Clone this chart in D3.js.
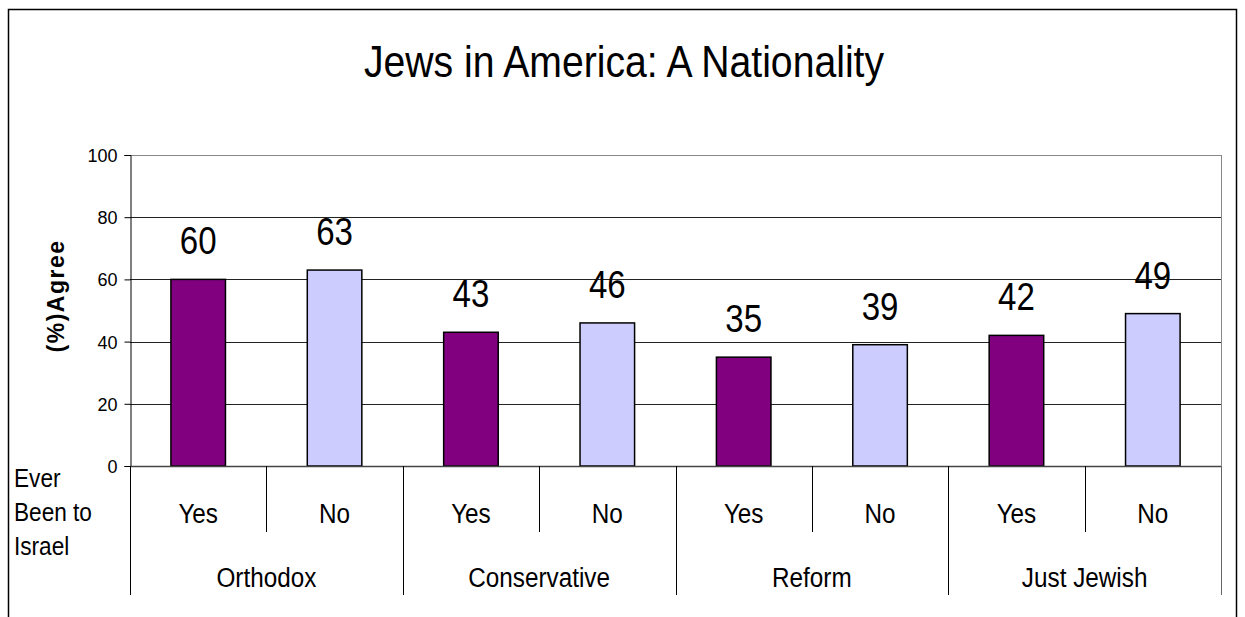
<!DOCTYPE html>
<html><head><meta charset="utf-8">
<script src="https://cdnjs.cloudflare.com/ajax/libs/d3/7.8.5/d3.min.js"></script>
<style>body{margin:0;background:#fff}svg{display:block;font-family:"Liberation Sans",Arial,sans-serif}</style>
</head><body><svg id="c" width="1245" height="617"></svg>
<script>
const title = "Jews in America: A Nationality";
const groups = ["Orthodox","Conservative","Reform","Just Jewish"];
const subs = ["Yes","No"];
const values = [60,63,43,46,35,39,42,49];
const yTicks = [0,20,40,60,80,100];
const yTitle = "(%)Agree";
const rowTitle = ["Ever","Been to","Israel"];
const colors = {Yes:"#800080", No:"#CCCCFF"};

const svg = d3.select("#c");
const L=130,R=1221,T=155,B=466;
const SX=0.9;
function stext(g, x, y, txt, size, anchor, sx){
  return g.append("text").attr("transform",`translate(${x},${y}) scale(${sx||SX},1)`)
    .attr("text-anchor",anchor||"middle").attr("font-size",size).attr("fill","#000").text(txt);
}
// outer border
svg.append("rect").attr("x",8.5).attr("y",9.5).attr("width",1228).attr("height",640)
  .attr("fill","none").attr("stroke","#000").attr("stroke-width",1.5);

const cats = [];
groups.forEach(g=>subs.forEach(s=>cats.push({g,s})));
const x = d3.scaleBand().domain(d3.range(cats.length)).range([L,R]).paddingInner(0).paddingOuter(0);
const y = d3.scaleLinear().domain([0,100]).range([B,T]);
const bw = x.bandwidth()/2.5;

// gridlines
svg.append("g").selectAll("line").data(yTicks.filter(t=>t>0)).join("line")
  .attr("x1",L).attr("x2",R).attr("y1",d=>Math.round(y(d))+0.5).attr("y2",d=>Math.round(y(d))+0.5)
  .attr("stroke",d=>d===100?"#888":"#222").attr("stroke-width",1);
// right plot border
svg.append("line").attr("x1",R+0.5).attr("x2",R+0.5).attr("y1",T).attr("y2",B).attr("stroke","#888");

// y axis
const ya = svg.append("g").attr("transform",`translate(${L+0.5},0)`)
  .call(d3.axisLeft(y).tickValues(yTicks).tickSize(6).tickPadding(7));
ya.select(".domain").attr("stroke","#000");
ya.selectAll(".tick line").attr("stroke","#000");
ya.selectAll("text").attr("font-size",18).attr("fill","#000").attr("font-family","Liberation Sans, Arial, sans-serif").attr("dy","0.36em");

// bars
svg.append("g").selectAll("rect").data(values).join("rect")
  .attr("x",(d,i)=>x(i)+(x.bandwidth()-bw)/2)
  .attr("y",d=>y(d))
  .attr("width",bw).attr("height",d=>B-y(d))
  .attr("fill",(d,i)=>colors[cats[i].s]).attr("stroke","#000").attr("stroke-width",1.5);

// data labels
const lg = svg.append("g");
values.forEach((d,i)=>stext(lg, x(i)+x.bandwidth()/2, y(d)-25, d, 38, "middle", 0.87));

// zero axis
svg.append("line").attr("x1",L).attr("x2",R).attr("y1",B+0.5).attr("y2",B+0.5).attr("stroke","#444").attr("stroke-width",1.5);

// category axis separators
const sep = svg.append("g").attr("stroke","#000").attr("stroke-width",1);
cats.forEach((c,i)=>{
  if(i%2===1){
    const xx = Math.round(x(i))+0.5;
    sep.append("line").attr("x1",xx).attr("x2",xx).attr("y1",B).attr("y2",532);
  }
});
d3.range(groups.length+1).forEach(k=>{
  const xx = k<groups.length ? Math.round(x(k*2))+0.5 : R+0.5;
  sep.append("line").attr("x1",xx).attr("x2",xx).attr("y1",B).attr("y2",595).attr("stroke",k===groups.length?"#666":"#000");
});
const cg = svg.append("g");
cats.forEach((c,i)=>stext(cg, x(i)+x.bandwidth()/2, 523, c.s, 27, "middle"));
groups.forEach((g,k)=>stext(cg, x(k*2)+x.bandwidth(), 587, g, 27, "middle"));
rowTitle.forEach((t,i)=>stext(cg, 14, 487+i*34, t, 26, "start", 0.87));

// y title
svg.append("text").attr("transform","translate(64,296) rotate(-90)")
  .attr("text-anchor","middle").attr("font-size",23).attr("font-weight","bold")
  .attr("letter-spacing",1.5).text(yTitle);

// title
stext(svg, 624, 77, title, 44, "middle", 0.89);
</script></body></html>
